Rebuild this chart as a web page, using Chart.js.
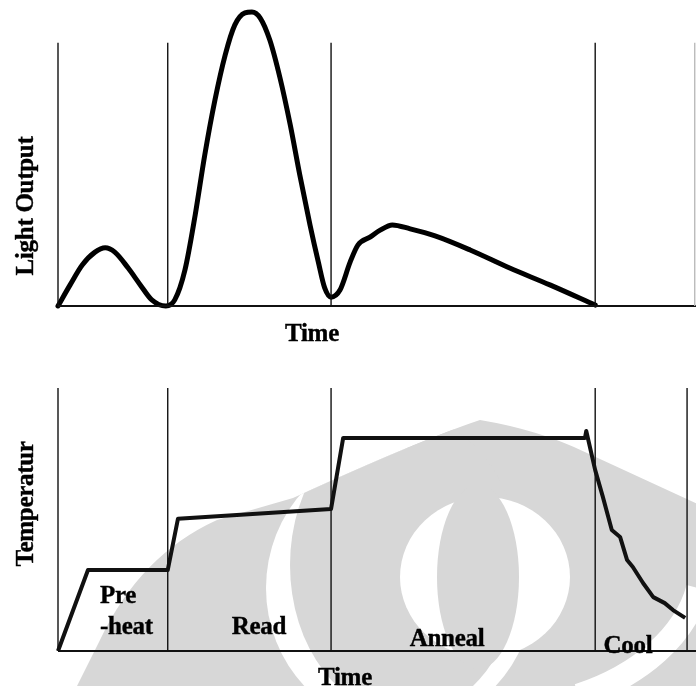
<!DOCTYPE html>
<html lang="en">
<head>
<meta charset="utf-8">
<title>TL readout cycle</title>
<script src="https://cdn.jsdelivr.net/npm/chart.js"></script>
<style>
  body { margin: 0; background: #fff; }
  #page { position: relative; width: 696px; height: 686px; overflow: hidden; }
  canvas { position: absolute; left: 0; }
  #top { top: 0; }
  #bottom { top: 350px; }
  .lbl { position: absolute; font-family: "Liberation Serif", "Times New Roman", serif; font-weight: bold; font-size: 25px; line-height: 1; color: #000; white-space: nowrap; letter-spacing: -0.3px; -webkit-text-stroke: 0.4px #000; }
  .rot { transform: translate(-50%, -50%) rotate(-90deg); }
  .ctr { transform: translate(-50%, -50%); }
</style>
</head>
<body>
<div id="page">
  <canvas id="top" width="696" height="350"></canvas>
  <canvas id="bottom" width="696" height="336"></canvas>

  <div class="lbl rot" style="left:24px; top:206px;">Light Output</div>
  <div class="lbl ctr" style="left:312px; top:332px;">Time</div>
  <div class="lbl rot" style="left:24px; top:504px;">Temperatur</div>
  <div class="lbl ctr" style="left:345px; top:676px;">Time</div>

  <div class="lbl" style="left:100px; top:582px;">Pre</div>
  <div class="lbl" style="left:100px; top:613px;">-heat</div>
  <div class="lbl ctr" style="left:259px; top:625px;">Read</div>
  <div class="lbl ctr" style="left:447px; top:637px;">Anneal</div>
  <div class="lbl ctr" style="left:628px; top:644px;">Cool</div>
</div>

<script>
// time axis runs 0..100 (arbitrary), values in arbitrary units 0..100
const lightTime = [0, 1.9, 3.8, 5.8, 7.4, 8.9, 11.0, 12.9, 14.7, 16.9, 18.3, 19.9, 21.5, 23.0, 24.6, 26.2, 27.7, 29.3, 30.4,
  31.7, 33.2, 34.8, 36.4, 37.9, 39.5, 40.8, 41.8, 42.8, 44.2, 45.8, 47.0, 48.9, 50.5, 52.4, 55.2, 59.1, 64.6, 70.8, 77.1, 84.2];
const lightOutput = [0, 6.9, 13.4, 17.6, 19.0, 17.6, 12.4, 6.9, 2.0, 0, 2.0, 11.8, 29.7, 49.3, 67.3, 82.0, 91.8, 95.8, 96.1,
  94.1, 86.9, 74.5, 59.2, 42.8, 26.5, 14.4, 5.9, 2.9, 5.2, 14.4, 19.9, 22.5, 24.8, 26.5, 25.2, 22.9, 18.3, 12.4, 6.9, 0.3];

const tempTime = [0, 4.7, 17.2, 18.8, 42.8, 44.7, 82.6, 82.8, 84.2, 85.4, 86.8, 88.1, 89.2, 90.1, 91.7, 93.3, 95.1, 96.4, 98.3];
const tempValue = [0, 26.9, 26.9, 43.9, 47.2, 70.8, 70.8, 73.1, 60.1, 51.2, 40.2, 37.9, 30.2, 27.9, 22.6, 17.9, 15.9, 13.6, 11.0];

// phase boundaries on the time axis and how high the divider lines reach
const lightBounds = [0, 17.2, 42.8, 84.2, 99.8];
const lightBoundTop = 86;
const tempBounds = [0, 17.2, 42.8, 84.2, 98.6];
const tempBoundTop = 87.4;

function pts(xs, ys) {
  return xs.map((x, i) => ({ x: x, y: ys[i] }));
}

function dividers(bounds, top, lastColor) {
  return bounds.map((b, i) => ({
    data: [{ x: b, y: 0 }, { x: b, y: top }],
    borderColor: (i === bounds.length - 1 && lastColor) ? lastColor : '#111',
    borderWidth: 1.4,
    pointRadius: 0,
    tension: 0,
    clip: false
  }));
}

function axisLine() {
  return {
    data: [{ x: 0, y: 0 }, { x: 100, y: 0 }],
    borderColor: '#111',
    borderWidth: 2,
    pointRadius: 0,
    clip: false
  };
}

function baseOptions(padBottom) {
  return {
    responsive: false,
    animation: false,
    events: [],
    layout: { padding: { left: 58, right: 0, top: 0, bottom: padBottom } },
    plugins: { legend: { display: false }, tooltip: { enabled: false } },
    scales: {
      x: { type: 'linear', min: 0, max: 100, display: false },
      y: { min: 0, max: 100, display: false }
    }
  };
}

// faint logo watermark behind the lower chart (page coordinates)
const watermark = {
  id: 'watermark',
  beforeDatasetsDraw(chart) {
    const ctx = chart.ctx;
    const grey = '#d7d7d7';
    ctx.save();
    ctx.translate(0, -350);
    ctx.beginPath();
    ctx.moveTo(70, 700);
    ctx.lineTo(100, 640);
    ctx.quadraticCurveTo(140, 555, 217, 520);
    ctx.lineTo(293, 498);
    ctx.quadraticCurveTo(420, 440, 480, 420);
    ctx.quadraticCurveTo(540, 430, 587, 453);
    ctx.lineTo(700, 505);
    ctx.lineTo(700, 700);
    ctx.closePath();
    ctx.fillStyle = grey;
    ctx.fill();
    ctx.clip();
    const ell = (cx, cy, rx, ry, col) => {
      ctx.beginPath();
      ctx.ellipse(cx, cy, rx, ry, 0, 0, Math.PI * 2);
      ctx.fillStyle = col;
      ctx.fill();
    };
    ell(400, 588, 134, 140, '#fff');
    ell(405, 565, 115, 150, grey);
    ell(485, 577, 85, 80, '#fff');
    ell(478, 577, 41, 92, grey);
    ctx.beginPath();
    ctx.ellipse(487, 560, 215, 150, 0, Math.PI * 0.06, Math.PI * 0.36);
    ctx.strokeStyle = '#fff';
    ctx.lineWidth = 24;
    ctx.stroke();
    ctx.restore();
  }
};

new Chart(document.getElementById('top'), {
  type: 'line',
  data: {
    datasets: [
      ...dividers(lightBounds, lightBoundTop, '#bbb'),
      axisLine(),
      {
        data: pts(lightTime, lightOutput),
        borderColor: '#000',
        borderWidth: 5,
        pointRadius: 0,
        cubicInterpolationMode: 'monotone',
        borderCapStyle: 'round',
        borderJoinStyle: 'round',
        clip: false
      }
    ]
  },
  options: baseOptions(44)
});

new Chart(document.getElementById('bottom'), {
  type: 'line',
  data: {
    datasets: [
      ...dividers(tempBounds, tempBoundTop),
      axisLine(),
      {
        data: pts(tempTime, tempValue),
        borderColor: '#111',
        borderWidth: 4,
        pointRadius: 0,
        tension: 0,
        borderJoinStyle: 'round',
        clip: false
      }
    ]
  },
  options: baseOptions(35),
  plugins: [watermark]
});
</script>
</body>
</html>
